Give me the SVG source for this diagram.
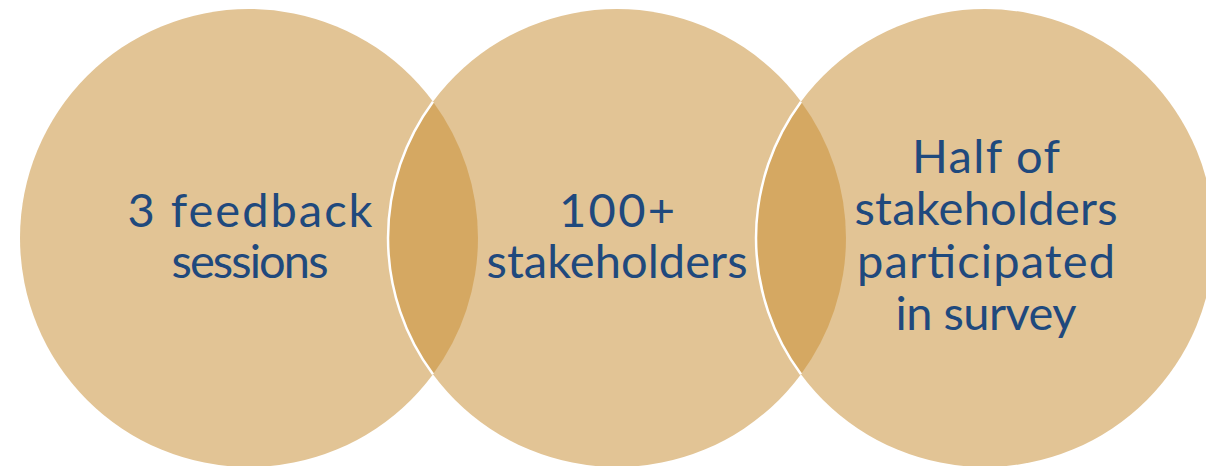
<svg xmlns="http://www.w3.org/2000/svg" width="1206" height="466" viewBox="0 0 1206 466">
<style>
.c{fill:#E2C495;}
.lens{fill:#D5A862;}
.edge{fill:none;stroke:#FFFFFF;stroke-width:2.5;}
.t{font-family:Lato,"Noto Sans","Liberation Sans",sans-serif;font-size:47px;fill:#1F497D;text-anchor:middle;}
</style>
<rect width="1206" height="466" fill="#FFFFFF"/>
<g id="node1"><circle class="c" cx="249" cy="238" r="229"/></g>
<g id="node2"><circle class="c" cx="617" cy="238" r="229"/></g>
<g id="node3"><circle class="c" cx="985" cy="238" r="229"/></g>
<g id="overlaps">
<path class="lens" d="M433,101.7 A229,229 0 0 1 433,374.3 A229,229 0 0 1 433,101.7 Z"/>
<path class="lens" d="M801,101.7 A229,229 0 0 1 801,374.3 A229,229 0 0 1 801,101.7 Z"/>
<path class="edge" d="M433,101.7 A229,229 0 0 0 433,374.3"/>
<path class="edge" d="M801,101.7 A229,229 0 0 0 801,374.3"/>
</g>
<g id="labels">
<text class="t" x="250" y="227" textLength="245">3 feedback</text>
<text class="t" x="250" y="278" textLength="157">sessions</text>
<text class="t" x="617" y="227" textLength="116">100+</text>
<text class="t" x="617" y="278" textLength="261">stakeholders</text>
<text class="t" x="986" y="173" textLength="148">Half of</text>
<text class="t" x="986" y="225" textLength="263">stakeholders</text>
<text class="t" x="986" y="278" textLength="258">participated</text>
<text class="t" x="986" y="330" textLength="181">in survey</text>
</g>
</svg>
